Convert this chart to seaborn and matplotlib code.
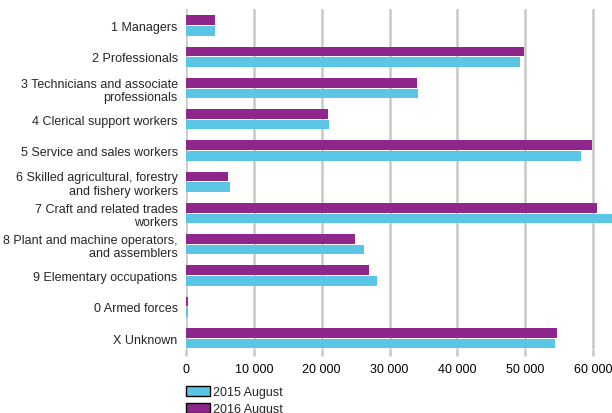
import matplotlib
matplotlib.use("Agg")
import matplotlib.pyplot as plt
import seaborn as sns
import pandas as pd
from matplotlib.patches import Patch
from matplotlib.ticker import FuncFormatter

categories = [
    "1 Managers",
    "2 Professionals",
    "3 Technicians and associate\nprofessionals",
    "4 Clerical support workers",
    "5 Service and sales workers",
    "6 Skilled agricultural, forestry\nand fishery workers",
    "7 Craft and related trades\nworkers",
    "8 Plant and machine operators,\nand assemblers",
    "9 Elementary occupations",
    "0 Armed forces",
    "X Unknown",
]
aug_2015 = [4300, 49200, 34150, 21150, 58300, 6500, 64000, 26300, 28100, 250, 54350]
aug_2016 = [4300, 49900, 34100, 21000, 59900, 6250, 60650, 24850, 27050, 250, 54650]
series = ["2015 August", "2016 August"]
xticks = [0, 10000, 20000, 30000, 40000, 50000, 60000]

c2015 = "#5BC5E6"
c2016 = "#8E268B"

rows = []
for cat, a, b in zip(categories, aug_2015, aug_2016):
    rows.append({"cat": cat, "series": series[0], "value": a})
    rows.append({"cat": cat, "series": series[1], "value": b})
df = pd.DataFrame(rows)

sns.set_theme(style="white")
plt.rcParams["font.family"] = ["Liberation Sans", "DejaVu Sans"]

fig = plt.figure(figsize=(6.12, 4.14), dpi=100)
ax = fig.add_axes([186 / 612, 1 - 350 / 414, (612 - 186) / 612, (350 - 10) / 414])

sns.barplot(data=df, y="cat", x="value", hue="series",
            hue_order=[series[1], series[0]],
            palette={series[0]: c2015, series[1]: c2016},
            order=categories, orient="h", width=0.68, gap=0.1,
            saturation=1, ax=ax, legend=False, errorbar=None, linewidth=0)

ax.set_xlim(0, 62800)
ax.set_ylim(10.35, -0.53)
ax.set_xticks(xticks)
ax.xaxis.set_major_formatter(FuncFormatter(lambda v, p: f"{int(v):,}".replace(",", " ")))
ax.grid(axis="x", color="#C8C8C8", linewidth=1.8)
ax.set_axisbelow(True)
for s in ["top", "right", "bottom", "left"]:
    ax.spines[s].set_visible(False)
ax.set_xlabel("")
ax.set_ylabel("")
ax.tick_params(axis="x", colors="#C8C8C8", length=5, width=1.8, labelcolor="black",
               labelsize=9, pad=5, bottom=True)
ax.tick_params(axis="y", length=0, labelsize=9, pad=6)
for lab in ax.get_yticklabels():
    lab.set_horizontalalignment("right")
    lab.set_multialignment("right")
    lab.set_linespacing(1.15)

handles = [Patch(facecolor=c2015, edgecolor="black", linewidth=1.0, label=series[0]),
           Patch(facecolor=c2016, edgecolor="black", linewidth=1.0, label=series[1])]
fig.legend(handles=handles, loc="upper left", bbox_to_anchor=(186 / 612, 1 - 387 / 414),
           frameon=False, fontsize=9, handlelength=1.9, handleheight=0.9,
           handletextpad=0.25, labelspacing=0.35, borderpad=0, borderaxespad=0)

fig.savefig("out.png", dpi=100)
